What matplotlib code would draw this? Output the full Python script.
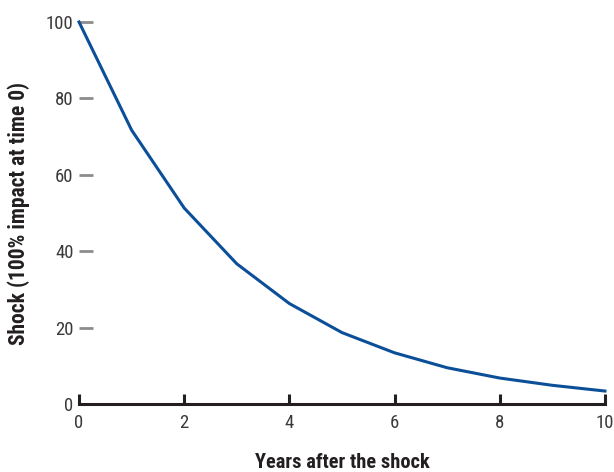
import numpy as np
import matplotlib
matplotlib.use('Agg')
import matplotlib.pyplot as plt

# data
years = [0, 1, 2, 3, 4, 5, 6, 7, 8, 9, 10]
shock = [100, 71.7, 51.3, 36.7, 26.3, 18.7, 13.4, 9.5, 6.8, 4.9, 3.4]
yticks = [0, 20, 40, 60, 80, 100]
xticks = [0, 2, 4, 6, 8, 10]

plt.rcParams['font.family'] = ['Roboto Condensed', 'DejaVu Sans']

fig = plt.figure(figsize=(6.14, 4.72), dpi=100)
ax = fig.add_axes([0.1287, 0.144, 0.8566, 0.8094])

ax.plot(years, shock, color='#0b4f98', linewidth=2.2, clip_on=False, zorder=3)

ax.set_xlim(0, 10)
ax.set_ylim(0, 100)
ax.set_xticks(xticks)
ax.set_yticks(yticks)

for s in ['top', 'right', 'left']:
    ax.spines[s].set_visible(False)
ax.spines['bottom'].set_linewidth(2.2)
ax.spines['bottom'].set_color('#231f20')

ax.tick_params(axis='x', direction='in', length=7, width=2.2, color='#231f20',
               labelsize=13.5, labelcolor='#3a3a3a', pad=7)
ax.tick_params(axis='y', direction='in', length=10, width=2, color='#8c8c8c',
               labelsize=13.5, labelcolor='#3a3a3a', pad=4)
ax.yaxis.get_major_ticks()[0].tick1line.set_visible(False)

ax.set_xlabel('Years after the shock', fontsize=14.7, fontweight='bold', color='#231f20')
ax.set_ylabel('Shock (100% impact at time 0)', fontsize=15.5, fontweight='bold', color='#231f20')
ax.xaxis.label.set_va('center')
ax.yaxis.label.set_va('center')
ax.xaxis.set_label_coords(0.5, -0.152)
ax.yaxis.set_label_coords(-0.115, 0.5)

plt.savefig('out.png', dpi=100)
